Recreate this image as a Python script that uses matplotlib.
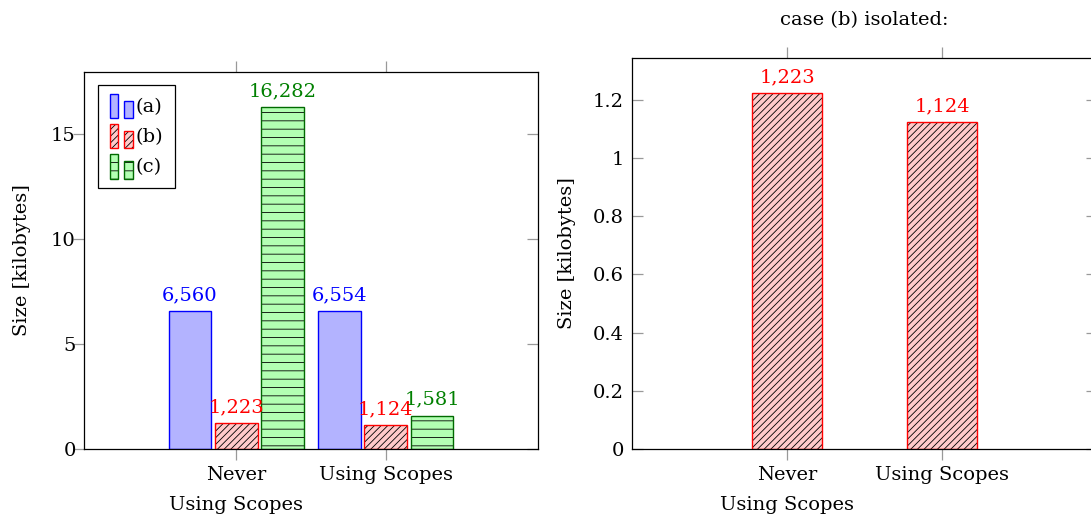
import matplotlib
matplotlib.use("Agg")
import matplotlib.pyplot as plt
from matplotlib.patches import Patch, Rectangle
from matplotlib.legend_handler import HandlerBase

plt.rcParams['font.family'] = ['DejaVu Serif']
plt.rcParams['font.size'] = 14
plt.rcParams['hatch.linewidth'] = 0.6
plt.rcParams['axes.linewidth'] = 0.9

categories = ['Never\nUsing Scopes', 'Using Scopes']
series_names = ['(a)', '(b)', '(c)']
size_a = [6.560, 6.554]
size_b = [1.223, 1.124]
size_c = [16.282, 1.581]
labels_a = ['6,560', '6,554']
labels_b = ['1,223', '1,124']
labels_c = ['16,282', '1,581']

fills = ['#b3b3ff', '#ffcaca', '#b3ffb3']
edges = ['#0000ff', '#ff0000', '#006a00']
text_cols = ['#0000ff', '#ff0000', '#008000']
hatches = [None, '/////', '--']
tick_col = '#999999'

fig = plt.figure(figsize=(10.91, 5.23), dpi=100)
W, H = 1091, 523


def hatched_bar(ax, xs, vals, width, i):
    # fill + black hatch, then coloured outline on top
    ax.bar(xs, vals, width=width, color=fills[i], edgecolor='black',
           hatch=hatches[i], linewidth=0)
    ax.bar(xs, vals, width=width, facecolor='none', edgecolor=edges[i], linewidth=1.0)


class TwoBars(HandlerBase):
    # pgfplots style ybar legend image: two small bars
    def create_artists(self, legend, orig_handle, xdescent, ydescent,
                       width, height, fontsize, trans):
        i = orig_handle.idx
        arts = []
        bw = width * 0.36
        for x0, hf in ((0.0, 1.4), (width * 0.62, 1.0)):
            h = height * hf
            y0 = -ydescent - height * 0.25
            r1 = Rectangle((x0 - xdescent, y0), bw, h, facecolor=fills[i],
                           edgecolor='black', hatch=hatches[i], linewidth=0,
                           transform=trans)
            r2 = Rectangle((x0 - xdescent, y0), bw, h, facecolor='none',
                           edgecolor=edges[i], linewidth=1.0, transform=trans)
            arts += [r1, r2]
        return arts


def style_ticks(ax):
    ax.tick_params(axis='x', direction='out', length=8, width=0.9, color=tick_col,
                   top=True, bottom=True, pad=4)
    ax.tick_params(axis='y', direction='in', length=8, width=0.9, color=tick_col,
                   left=True, right=True, pad=6)


# left chart
ax1 = fig.add_axes([84 / W, (H - 449) / H, (538 - 84) / W, (449 - 72) / H])
x = [0, 1]
off = 0.31
bw = 0.285
all_vals = [size_a, size_b, size_c]
all_labels = [labels_a, labels_b, labels_c]
handles = []
for i in range(3):
    xs = [xi + (i - 1) * off for xi in x]
    hatched_bar(ax1, xs, all_vals[i], bw, i)
    for xx, v, lab in zip(xs, all_vals[i], all_labels[i]):
        ax1.annotate(lab, (xx, v), xytext=(0, 5), textcoords='offset points',
                     ha='center', va='bottom', color=text_cols[i], fontsize=14)
    p = Patch()
    p.idx = i
    handles.append(p)

ax1.set_xlim(-1.02, 2.02)
ax1.set_ylim(0, 17.95)
ax1.set_xticks(x)
ax1.set_xticklabels(categories, linespacing=1.85)
ax1.set_yticks([0, 5, 10, 15])
ax1.set_ylabel('Size [kilobytes]', labelpad=14)
style_ticks(ax1)
for t in ax1.yaxis.get_major_ticks():
    t.tick1line.set_marker(0)  # left ticks point outward

leg = ax1.legend(handles, series_names, loc='upper left',
                 bbox_to_anchor=((98 - 84) / (538 - 84), 1 - (85 - 72) / (449 - 72)),
                 handler_map={Patch: TwoBars()},
                 handlelength=1.2, handleheight=1.0, handletextpad=0.15,
                 borderpad=0.6, labelspacing=0.55, fancybox=False,
                 framealpha=1, edgecolor='black', fontsize=14, borderaxespad=0)
leg.get_frame().set_linewidth(0.9)

# right chart: case (b) only
ax2 = fig.add_axes([632 / W, (H - 449) / H, (1097 - 632) / W, (449 - 58) / H])
hatched_bar(ax2, x, size_b, 0.457, 1)
for xx, v, lab in zip(x, size_b, labels_b):
    ax2.annotate(lab, (xx, v), xytext=(0, 5), textcoords='offset points',
                 ha='center', va='bottom', color=text_cols[1], fontsize=14)
ax2.set_xlim(-1, 2)
ax2.set_ylim(0, 1.344)
ax2.set_xticks(x)
ax2.set_xticklabels(categories, linespacing=1.85)
ax2.set_yticks([0, 0.2, 0.4, 0.6, 0.8, 1.0, 1.2])
ax2.set_yticklabels(['0', '0.2', '0.4', '0.6', '0.8', '1', '1.2'])
ax2.set_ylabel('Size [kilobytes]', labelpad=12)
ax2.set_title('case (b) isolated:', pad=24, fontsize=14)
style_ticks(ax2)

fig.savefig('out.png', dpi=100)
